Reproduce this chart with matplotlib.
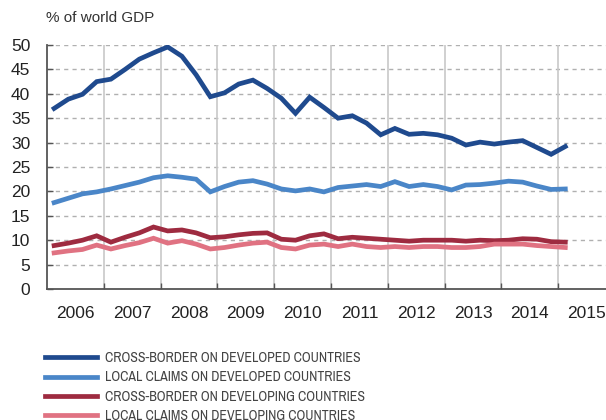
import matplotlib
matplotlib.use("Agg")
import matplotlib.pyplot as plt
from matplotlib.lines import Line2D
from matplotlib import font_manager
import numpy as np

# Quarterly data, 2006Q1 .. 2015Q1
years = list(range(2006, 2016))
cross_dev = [37.0, 38.9, 39.9, 42.5, 43.0, 45.0, 47.1, 48.4, 49.6, 47.7, 43.9, 39.4,
             40.2, 42.0, 42.8, 41.1, 39.1, 36.0, 39.3, 37.2, 35.0, 35.5, 34.0, 31.6,
             32.9, 31.7, 31.9, 31.6, 30.9, 29.5, 30.1, 29.7, 30.1, 30.4, 29.0, 27.6, 29.2]
local_dev = [17.7, 18.6, 19.5, 19.9, 20.5, 21.2, 21.9, 22.8, 23.2, 22.9, 22.5, 19.9,
             21.0, 21.9, 22.2, 21.5, 20.5, 20.1, 20.5, 19.9, 20.8, 21.1, 21.4, 21.0,
             22.0, 21.0, 21.4, 21.0, 20.3, 21.3, 21.4, 21.7, 22.1, 21.9, 21.1, 20.4, 20.5]
cross_devg = [8.9, 9.4, 10.0, 10.9, 9.6, 10.6, 11.5, 12.7, 11.9, 12.1, 11.5, 10.5,
              10.7, 11.1, 11.4, 11.5, 10.2, 10.0, 10.9, 11.3, 10.3, 10.6, 10.4, 10.2,
              10.0, 9.8, 10.0, 10.0, 10.0, 9.8, 10.0, 9.9, 10.0, 10.3, 10.2, 9.7, 9.6]
local_devg = [7.4, 7.8, 8.1, 9.0, 8.2, 8.9, 9.5, 10.4, 9.4, 9.9, 9.2, 8.2,
              8.5, 9.0, 9.4, 9.6, 8.5, 8.2, 9.0, 9.2, 8.7, 9.2, 8.7, 8.5,
              8.7, 8.5, 8.7, 8.7, 8.5, 8.5, 8.7, 9.2, 9.2, 9.2, 8.9, 8.7, 8.5]
labels = ["CROSS-BORDER ON DEVELOPED COUNTRIES",
          "LOCAL CLAIMS ON DEVELOPED COUNTRIES",
          "CROSS-BORDER ON DEVELOPING COUNTRIES",
          "LOCAL CLAIMS ON DEVELOPING COUNTRIES"]
colors = ["#1f4a8e", "#4a86c8", "#9e2b40", "#e07282"]

n = len(cross_dev)
t = 2006 + (np.arange(n) + 0.5) / 4.0

plt.rcParams['font.family'] = ['Liberation Sans', 'DejaVu Sans']

# find a narrow font for legend, if available
narrow = None
for f in font_manager.fontManager.ttflist:
    if 'Narrow' in f.name or 'Condensed' in f.name:
        if narrow is None or 'Liberation' in f.name:
            narrow = f.name

W, H = 606, 420
fig = plt.figure(figsize=(W / 100, H / 100), dpi=100)
px_year = 56.8
x0 = 47
right_px = W
ax = fig.add_axes([x0 / W, (H - 289) / H, (right_px - x0) / W, 244 / H])
ax.set_xlim(2006, 2006 + (right_px - x0) / px_year)
ax.set_ylim(0, 50)

for yv in range(5, 55, 5):
    ax.axhline(yv, color="#b0b0b0", lw=1.0, ls=(0, (3, 3)), zorder=1)
for yr in range(2007, 2016):
    ax.axvline(yr, color="#c8c8c8", lw=1.2, zorder=1)

for series, c, lab in zip([cross_dev, local_dev, cross_devg, local_devg], colors, labels):
    ax.plot(t, series, color=c, lw=3.4, label=lab, zorder=3, solid_joinstyle='miter')

for s in ["top", "right"]:
    ax.spines[s].set_visible(False)
for s in ["left", "bottom"]:
    ax.spines[s].set_color("#555555")
    ax.spines[s].set_linewidth(1.3)

ax.set_yticks(range(0, 55, 5))
ax.tick_params(axis='y', direction='in', length=4, width=1.0, color="#555555",
               labelsize=12.5, labelcolor="#222222", pad=12)
ax.set_xticks(range(2007, 2016))
ax.set_xticklabels([])
ax.set_xticks([y + 0.5 for y in years], minor=True)
ax.set_xticklabels([str(y) for y in years], minor=True)
ax.tick_params(axis='x', which='major', direction='in', length=4, width=1.0, color="#555555")
ax.tick_params(axis='x', which='minor', length=0, labelsize=12.5, labelcolor="#222222", pad=12)

fig.text(46 / W, 1 - 18 / H, "% of world GDP", fontsize=11, color="#333333",
         ha='left', va='center')

handles = [Line2D([], [], color=c, lw=3.4) for c in colors]
if narrow is not None:
    leg_fs = 10
    leg_family = [narrow, 'Liberation Sans']
else:
    leg_fs = 8.6
    leg_family = ['Liberation Sans']
leg_font = font_manager.FontProperties(family=leg_family, size=leg_fs)
fs_px = leg_fs * 100 / 72
leg = fig.legend(handles, labels, loc='upper left', bbox_to_anchor=(45 / W, 1 - 351 / H),
                 frameon=False, prop=leg_font, handlelength=52 / fs_px,
                 handletextpad=8 / fs_px,
                 labelspacing=(19.3 - fs_px) / fs_px, borderpad=0, borderaxespad=0)
for txt in leg.get_texts():
    txt.set_color("#444444")

fig.savefig("out.png", dpi=100)
